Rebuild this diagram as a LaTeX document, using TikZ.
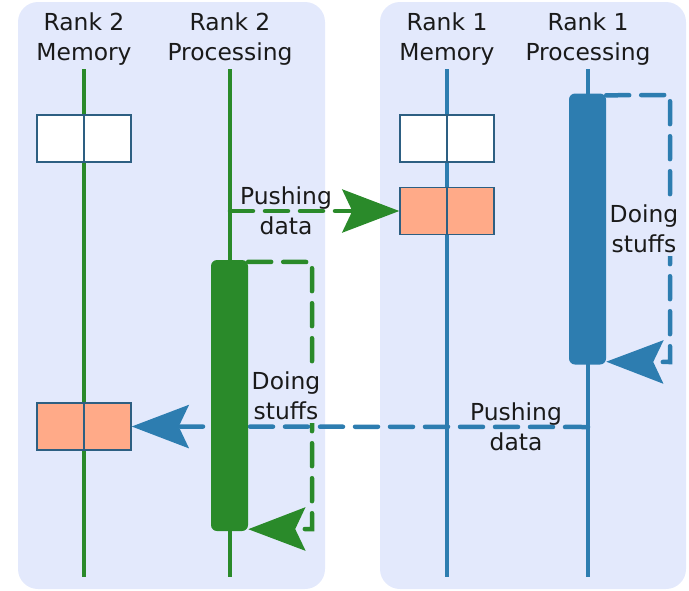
\documentclass[tikz,border=0pt]{standalone}
\usepackage{fontspec}
\setmainfont{DejaVu Sans}
\usetikzlibrary{arrows.meta}
\definecolor{panelc}{HTML}{E3E9FC}
\definecolor{grn}{HTML}{2A8A2A}
\definecolor{blu}{HTML}{2D7DB0}
\definecolor{salmon}{HTML}{FFAA88}
\definecolor{boxc}{HTML}{2D5F82}
\definecolor{txt}{HTML}{1A1A1A}
\begin{document}
\begin{tikzpicture}[x=1pt,y=-1pt,
  lbl/.style={align=center, font=\fontsize{23.4}{30}\selectfont, text=txt, inner sep=0pt},
  life/.style={line width=4.5pt},
  membox/.style={draw=boxc, line width=1.4pt, minimum width=94pt, minimum height=47pt, inner sep=0pt},
  actbar/.style={rounded corners=6pt, minimum width=37pt, minimum height=271pt, inner sep=0pt},
  dsh/.style={line width=4.5pt, dash pattern=on 23pt off 12pt, line cap=round},
  bigarrow/.style={-{Stealth[length=57pt,width=43pt,inset=10pt]}},
  panel/.style={fill=panelc, rounded corners=20pt}
]
\useasboundingbox (0,0) rectangle (689,590);
% panels
\path[panel] (18,2) rectangle (325,589);
\path[panel] (380,2) rectangle (686,589);

% headers
\node[lbl] (h2m) at (84,39) {Rank 2\\Memory};
\node[lbl] (h2p) at (230,39) {Rank 2\\Processing};
\node[lbl] (h1m) at (447,39) {Rank 1\\Memory};
\node[lbl] (h1p) at (588,39) {Rank 1\\Processing};

% lifelines
\coordinate (m2t) at (84,69);  \coordinate (m2b) at (84,577);
\coordinate (p2t) at (230,69); \coordinate (p2b) at (230,577);
\coordinate (m1t) at (447,69); \coordinate (m1b) at (447,577);
\coordinate (p1t) at (588,69); \coordinate (p1b) at (588,577);
\draw[life, grn] (m2t) -- (m2b);
\draw[life, grn] (p2t) -- (p2b);
\draw[life, blu] (m1t) -- (m1b);
\draw[life, blu] (p1t) -- (p1b);

% memory boxes
\node[membox, fill=white]  (b2w) at (84,138.5) {};
\node[membox, fill=salmon] (b2o) at (84,426.5) {};
\node[membox, fill=white]  (b1w) at (447,138.5) {};
\node[membox, fill=salmon] (b1o) at (447,211) {};
\foreach \b in {b2w,b2o,b1w,b1o} \draw[boxc, line width=1.4pt] (\b.north) -- (\b.south);

% activation bars (positions)
\node[actbar] (gbar) at (229.5,395.5) {};
\node[actbar] (bbar) at (587.5,229) {};

% self loops
\coordinate (gc1) at (312,262); \coordinate (gc2) at (312,529);
\draw[dsh, grn, bigarrow] ([yshift=-2pt]gbar.north east) -- (gc1) -- (gc2) -- ([yshift=2pt]gbar.south east);
\coordinate (bc1) at (670,95); \coordinate (bc2) at (670,362);
\draw[dsh, blu, bigarrow] ([yshift=-2pt]bbar.north east) -- (bc1) -- (bc2) -- ([yshift=3pt]bbar.south east);
\node[lbl, fill=panelc, inner sep=3pt] (gdo) at (286,396) {Doing\\stuffs};
\node[lbl, fill=panelc, inner sep=3pt] (bdo) at (644,229) {Doing\\stuffs};

% pushing data
\coordinate (gp) at (230,211);
\draw[dsh, grn, bigarrow] (gp) -- (b1o.west);
\node[lbl] (gpush) at (286,211) {Pushing\\data};
\coordinate (bp) at (588,427);
\draw[dsh, blu, bigarrow] (bp) -- (b2o.east);
\node[lbl] (bpush) at (516,427) {Pushing\\data};

% bars drawn on top
\node[actbar, fill=grn] at (gbar) {};
\node[actbar, fill=blu] at (bbar) {};
\end{tikzpicture}
\end{document}
